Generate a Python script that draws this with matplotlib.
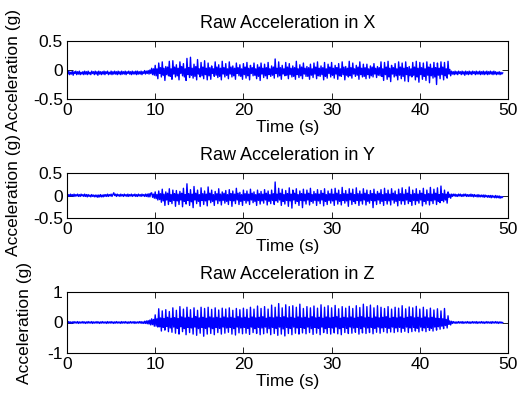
import numpy as np
import matplotlib
matplotlib.use("Agg")
import matplotlib.pyplot as plt

plt.rcParams['font.family'] = ['Liberation Sans', 'DejaVu Sans']
plt.rcParams['axes.unicode_minus'] = False

SAMPLE_STEP = 0.1  # seconds between samples

titles = ["Raw Acceleration in X", "Raw Acceleration in Y", "Raw Acceleration in Z"]
xlabel = "Time (s)"
ylabel = "Acceleration (g)"
xticks = [0, 10, 20, 30, 40, 50]
yticks_xy = [-0.5, 0, 0.5]
yticks_z = [-1, 0, 1]

acc_x = [
    # 0 - 10 s
    -0.03,-0.07,-0.02,-0.08,-0.04,-0.07,-0.02,-0.09,-0.03,-0.06,-0.02,-0.08,-0.03,-0.07,-0.02,-0.08,-0.04,-0.07,-0.03,-0.08,
    -0.02,-0.07,-0.03,-0.08,-0.02,-0.07,-0.04,-0.08,-0.02,-0.06,-0.03,-0.08,-0.02,-0.07,-0.03,-0.09,-0.02,-0.07,-0.03,-0.08,
    -0.03,-0.07,-0.02,-0.08,-0.03,-0.06,-0.02,-0.08,-0.04,-0.07,-0.02,-0.08,-0.03,-0.07,-0.02,-0.07,-0.03,-0.08,-0.02,-0.07,
    -0.03,-0.08,-0.02,-0.07,-0.03,-0.07,-0.02,-0.08,-0.03,-0.06,-0.02,-0.07,-0.03,-0.08,-0.02,-0.07,-0.03,-0.07,-0.02,-0.08,
    -0.02,-0.07,-0.03,-0.07,-0.02,-0.08,-0.03,-0.06,-0.01,-0.07,-0.02,-0.06,-0.01,-0.07,0.00,-0.06,0.03,-0.08,0.02,-0.09,
    # 10 - 43.6 s
    0.08,-0.10,0.02,-0.15, 0.12,-0.06,0.04,-0.12, 0.14,-0.09,0.03,-0.18, 0.06,-0.08,0.05,-0.10, 0.15,-0.11,0.02,-0.16,
    0.16,-0.07,0.05,-0.12, 0.09,-0.10,0.03,-0.17, 0.14,-0.06,0.06,-0.10, 0.11,-0.12,0.02,-0.18, 0.20,-0.08,0.04,-0.13,
    0.22,-0.09,0.03,-0.14, 0.10,-0.11,0.06,-0.17, 0.18,-0.07,0.02,-0.12, 0.13,-0.10,0.05,-0.15, 0.16,-0.08,0.03,-0.17,
    0.12,-0.10,0.04,-0.16, 0.07,-0.06,0.02,-0.11, 0.14,-0.09,0.05,-0.13, 0.09,-0.11,0.03,-0.17, 0.15,-0.07,0.04,-0.12,
    0.11,-0.09,0.02,-0.15, 0.14,-0.07,0.05,-0.12, 0.07,-0.10,0.03,-0.16, 0.12,-0.06,0.04,-0.10, 0.09,-0.11,0.02,-0.16,
    0.11,-0.08,0.05,-0.14, 0.13,-0.10,0.03,-0.17, 0.08,-0.06,0.04,-0.10, 0.12,-0.09,0.02,-0.15, 0.09,-0.11,0.05,-0.18,
    0.12,-0.07,0.03,-0.13, 0.10,-0.10,0.04,-0.15, 0.13,-0.08,0.02,-0.11, 0.07,-0.09,0.05,-0.14, 0.19,-0.06,0.03,-0.12,
    0.14,-0.10,0.04,-0.16, 0.08,-0.07,0.02,-0.10, 0.13,-0.09,0.05,-0.15, 0.11,-0.08,0.03,-0.12, 0.07,-0.11,0.04,-0.16,
    0.15,-0.08,0.02,-0.13, 0.09,-0.10,0.05,-0.15, 0.12,-0.07,0.03,-0.11, 0.06,-0.11,0.04,-0.16, 0.10,-0.09,0.02,-0.13,
    0.12,-0.07,0.05,-0.15, 0.14,-0.10,0.03,-0.11, 0.07,-0.08,0.04,-0.17, 0.13,-0.11,0.02,-0.14, 0.10,-0.06,0.05,-0.12,
    0.13,-0.09,0.03,-0.14, 0.08,-0.07,0.04,-0.16, 0.11,-0.10,0.02,-0.11, 0.14,-0.08,0.05,-0.17, 0.06,-0.09,0.03,-0.12,
    0.15,-0.10,0.04,-0.14, 0.12,-0.07,0.02,-0.11, 0.08,-0.09,0.05,-0.16, 0.14,-0.08,0.03,-0.12, 0.10,-0.11,0.04,-0.15,
    0.10,-0.08,0.02,-0.14, 0.07,-0.10,0.05,-0.12, 0.11,-0.07,0.03,-0.13, 0.06,-0.09,0.04,-0.10, 0.14,-0.11,0.02,-0.18,
    0.13,-0.08,0.05,-0.16, 0.15,-0.12,0.03,-0.20, 0.08,-0.07,0.04,-0.12, 0.11,-0.10,0.02,-0.17, 0.14,-0.09,0.05,-0.15,
    0.12,-0.11,0.03,-0.19, 0.14,-0.08,0.04,-0.20, 0.06,-0.10,0.02,-0.12, 0.13,-0.09,0.05,-0.17, 0.15,-0.12,0.03,-0.21,
    0.13,-0.08,0.04,-0.16, 0.12,-0.11,0.02,-0.18, 0.14,-0.09,0.05,-0.22, 0.10,-0.10,0.03,-0.14, 0.13,-0.12,0.04,-0.25,
    0.12,-0.09,0.03,-0.15, 0.14,-0.08,0.05,-0.17, 0.13,-0.10,0.02,-0.14, 0.15,-0.07,0.01,-0.10,
    # 43.6 - 49.4 s
    -0.02,-0.07,-0.03,-0.08,-0.02,-0.07,-0.03,-0.08,-0.02,-0.06,-0.03,-0.08,-0.02,-0.07,-0.03,-0.09,-0.02,-0.07,-0.03,-0.08,
    -0.02,-0.07,-0.03,-0.08,-0.02,-0.06,-0.03,-0.08,-0.02,-0.07,-0.03,-0.07,-0.02,-0.08,-0.03,-0.07,-0.02,-0.08,-0.03,-0.07,
    -0.02,-0.08,-0.03,-0.07,-0.02,-0.07,-0.03,-0.08,-0.02,-0.07,-0.03,-0.08,-0.04,-0.07,-0.03,-0.08,-0.04,-0.07,-0.05,
]

acc_y = [
    # 0 - 9.6 s
    0.03,-0.02,0.02,-0.02,0.03,-0.01,0.02,-0.02,0.03,-0.02,0.02,-0.01,0.03,-0.02,0.02,-0.02,0.03,-0.01,0.02,-0.02,
    0.03,-0.02,0.02,-0.03,0.02,-0.02,0.01,-0.03,0.02,-0.02,0.01,-0.03,0.01,-0.03,0.01,-0.04,0.01,-0.03,0.02,-0.03,
    0.01,-0.03,0.02,-0.02,0.02,-0.02,0.03,-0.02,0.02,-0.01,0.03,-0.02,0.02,0.06,0.00,0.03,-0.02,0.03,-0.01,0.02,
    -0.02,0.03,-0.01,0.02,-0.02,0.03,-0.01,0.02,-0.02,0.03,-0.02,0.02,-0.01,0.03,-0.02,0.02,-0.01,0.03,-0.02,0.02,
    -0.02,0.03,-0.01,0.02,-0.02,0.03,-0.01,0.02,-0.02,0.03,-0.02,0.03,-0.03,0.04,-0.03,0.05,
    # 9.6 - 43.6 s
    0.06,-0.04,0.03,-0.06, 0.08,-0.07,0.02,-0.10,
    0.10,-0.09,0.04,-0.15, 0.14,-0.12,0.03,-0.22, 0.08,-0.10,0.05,-0.20, 0.15,-0.13,0.02,-0.18, 0.12,-0.11,0.04,-0.24,
    0.11,-0.12,0.03,-0.20, 0.09,-0.10,0.05,-0.25, 0.16,-0.13,0.02,-0.19, 0.26,-0.11,0.04,-0.22, 0.13,-0.14,0.03,-0.27,
    0.20,-0.10,0.05,-0.18, 0.12,-0.13,0.02,-0.24, 0.17,-0.11,0.04,-0.20, 0.10,-0.12,0.03,-0.23, 0.19,-0.10,0.05,-0.16,
    0.12,-0.13,0.02,-0.22, 0.09,-0.10,0.04,-0.18, 0.15,-0.12,0.03,-0.21, 0.08,-0.11,0.05,-0.17, 0.11,-0.13,0.02,-0.20,
    0.13,-0.11,0.04,-0.24, 0.10,-0.12,0.03,-0.18, 0.16,-0.10,0.05,-0.20, 0.07,-0.13,0.02,-0.22, 0.12,-0.11,0.04,-0.17,
    0.10,-0.12,0.03,-0.20, 0.14,-0.10,0.05,-0.16, 0.08,-0.13,0.02,-0.22, 0.12,-0.11,0.04,-0.19, 0.09,-0.12,0.03,-0.17,
    0.13,-0.10,0.05,-0.21, 0.10,-0.13,0.02,-0.18, 0.12,-0.11,0.04,-0.20, 0.30,-0.12,0.03,-0.15, 0.16,-0.10,0.05,-0.22,
    0.14,-0.13,0.02,-0.19, 0.11,-0.11,0.04,-0.24, 0.17,-0.12,0.03,-0.28, 0.12,-0.10,0.05,-0.18, 0.15,-0.13,0.02,-0.22,
    0.10,-0.11,0.04,-0.27, 0.14,-0.12,0.03,-0.19, 0.12,-0.10,0.05,-0.21, 0.16,-0.13,0.02,-0.17, 0.09,-0.11,0.04,-0.22,
    0.13,-0.12,0.03,-0.18, 0.11,-0.10,0.05,-0.23, 0.15,-0.13,0.02,-0.20, 0.10,-0.11,0.04,-0.17, 0.14,-0.12,0.03,-0.22,
    0.16,-0.10,0.05,-0.19, 0.12,-0.13,0.02,-0.21, 0.18,-0.11,0.04,-0.17, 0.11,-0.12,0.03,-0.24, 0.15,-0.10,0.05,-0.20,
    0.14,-0.13,0.02,-0.18, 0.17,-0.11,0.04,-0.22, 0.10,-0.12,0.03,-0.19, 0.15,-0.10,0.05,-0.21, 0.12,-0.13,0.02,-0.17,
    0.11,-0.11,0.04,-0.27, 0.14,-0.12,0.03,-0.20, 0.09,-0.10,0.05,-0.18, 0.13,-0.13,0.02,-0.22, 0.16,-0.11,0.04,-0.19,
    0.12,-0.12,0.03,-0.21, 0.15,-0.10,0.05,-0.17, 0.10,-0.13,0.02,-0.23, 0.14,-0.11,0.04,-0.19, 0.17,-0.12,0.03,-0.20,
    0.13,-0.10,0.05,-0.18, 0.19,-0.13,0.02,-0.22, 0.12,-0.11,0.04,-0.20, 0.15,-0.12,0.03,-0.17, 0.11,-0.10,0.05,-0.23,
    0.16,-0.13,0.02,-0.19, 0.12,-0.11,0.04,-0.21, 0.18,-0.12,0.03,-0.18, 0.14,-0.10,0.05,-0.20, 0.17,-0.13,0.02,-0.16,
    0.21,-0.11,0.04,-0.14, 0.12,-0.10,0.03,-0.17, 0.08,-0.04,0.03,-0.06,
    # 43.6 - 49.4 s
    0.03,-0.02,0.03,-0.01,0.03,-0.02,0.02,-0.02,0.03,-0.01,0.03,-0.02,0.02,-0.02,0.03,-0.01,0.03,-0.02,0.02,-0.02,
    0.02,-0.02,0.03,-0.02,0.02,-0.03,0.02,-0.02,0.01,-0.03,0.02,-0.03,0.01,-0.03,0.01,-0.03,0.01,-0.04,0.01,-0.03,
    0.00,-0.04,0.00,-0.04,0.00,-0.05,0.00,-0.04,-0.01,-0.05,0.00,-0.05,-0.01,-0.05,-0.01,-0.06,-0.02,-0.05,-0.03,
]

acc_z = [
    # 0 - 10 s
    0.02,-0.02,0.03,-0.02,0.02,-0.03,0.02,-0.02,0.03,-0.02,0.02,-0.02,0.03,-0.03,0.02,-0.02,0.02,-0.02,0.03,-0.02,
    0.02,-0.03,0.02,-0.02,0.03,-0.02,0.02,-0.02,0.03,-0.03,0.02,-0.02,0.02,-0.02,0.03,-0.02,0.02,-0.03,0.02,-0.02,
    0.03,-0.02,0.02,-0.02,0.02,-0.03,0.03,-0.02,0.02,-0.02,0.03,-0.02,0.02,-0.03,0.02,-0.02,0.03,-0.02,0.02,-0.02,
    0.02,-0.03,0.03,-0.02,0.02,-0.02,0.03,-0.02,0.02,-0.03,0.02,-0.02,0.03,-0.02,0.02,-0.02,0.03,-0.03,0.02,-0.02,
    0.02,-0.02,0.03,-0.02,0.03,-0.03,0.02,-0.03,0.04,-0.03,0.05,-0.04,0.06,-0.05,
    0.08,-0.08,0.12,-0.07,0.10,-0.12,
    # 10 - 43.6 s
    0.25,-0.12,0.12,-0.15, 0.45,-0.14,0.15,-0.28, 0.38,-0.16,0.13,-0.25, 0.42,-0.13,0.17,-0.30, 0.36,-0.18,0.14,-0.32,
    0.48,-0.15,0.16,-0.35, 0.40,-0.19,0.13,-0.38, 0.52,-0.14,0.18,-0.30, 0.44,-0.20,0.15,-0.40, 0.50,-0.16,0.17,-0.33,
    0.42,-0.18,0.14,-0.38, 0.48,-0.15,0.19,-0.42, 0.40,-0.20,0.15,-0.35, 0.50,-0.16,0.17,-0.45, 0.46,-0.19,0.14,-0.38,
    0.50,-0.15,0.18,-0.36, 0.43,-0.20,0.15,-0.40, 0.48,-0.16,0.17,-0.33, 0.41,-0.19,0.14,-0.38, 0.47,-0.15,0.18,-0.35,
    0.44,-0.18,0.15,-0.32, 0.48,-0.16,0.17,-0.38, 0.40,-0.20,0.14,-0.41, 0.46,-0.15,0.19,-0.34, 0.42,-0.18,0.15,-0.37,
    0.47,-0.16,0.17,-0.35, 0.43,-0.19,0.14,-0.39, 0.50,-0.15,0.18,-0.33, 0.44,-0.20,0.15,-0.36, 0.54,-0.16,0.17,-0.40,
    0.46,-0.18,0.19,-0.37, 0.52,-0.15,0.14,-0.34, 0.44,-0.20,0.17,-0.40, 0.57,-0.16,0.15,-0.36, 0.50,-0.19,0.18,-0.42,
    0.62,-0.15,0.16,-0.38, 0.48,-0.21,0.19,-0.44, 0.58,-0.16,0.15,-0.36, 0.52,-0.19,0.17,-0.40, 0.55,-0.15,0.14,-0.35,
    0.50,-0.18,0.18,-0.38, 0.60,-0.16,0.15,-0.34, 0.46,-0.19,0.17,-0.37, 0.52,-0.15,0.14,-0.33, 0.48,-0.20,0.19,-0.39,
    0.54,-0.16,0.15,-0.35, 0.47,-0.19,0.17,-0.40, 0.58,-0.15,0.14,-0.33, 0.50,-0.20,0.18,-0.36, 0.55,-0.16,0.15,-0.38,
    0.48,-0.18,0.17,-0.34, 0.56,-0.15,0.19,-0.37, 0.45,-0.20,0.14,-0.40, 0.52,-0.16,0.17,-0.33, 0.47,-0.19,0.15,-0.36,
    0.53,-0.15,0.18,-0.35, 0.46,-0.18,0.14,-0.32, 0.55,-0.16,0.17,-0.38, 0.49,-0.20,0.19,-0.34, 0.60,-0.15,0.15,-0.36,
    0.52,-0.18,0.17,-0.33, 0.57,-0.16,0.14,-0.37, 0.48,-0.19,0.18,-0.32, 0.55,-0.15,0.15,-0.35, 0.50,-0.18,0.17,-0.30,
    0.46,-0.16,0.19,-0.34, 0.52,-0.19,0.14,-0.31, 0.44,-0.15,0.17,-0.33, 0.50,-0.18,0.15,-0.30, 0.47,-0.16,0.18,-0.32,
    0.55,-0.19,0.14,-0.29, 0.45,-0.15,0.17,-0.33, 0.51,-0.18,0.19,-0.30, 0.48,-0.16,0.15,-0.28, 0.53,-0.19,0.17,-0.31,
    0.44,-0.15,0.14,-0.27, 0.50,-0.18,0.18,-0.30, 0.42,-0.16,0.15,-0.26, 0.47,-0.19,0.17,-0.28, 0.41,-0.15,0.14,-0.25,
    0.45,-0.14,0.13,-0.22, 0.38,-0.12,0.12,-0.20, 0.46,-0.10,0.10,-0.18, 0.22,-0.06,0.05,-0.08,
    # 43.6 - 49.4 s
    0.04,-0.03,0.03,-0.02,0.02,-0.03,0.02,-0.02,0.03,-0.02,0.02,-0.02,0.03,-0.03,0.02,-0.02,0.02,-0.02,0.03,-0.02,
    0.02,-0.03,0.02,-0.02,0.03,-0.02,0.02,-0.02,0.03,-0.03,0.02,-0.02,0.02,-0.02,0.03,-0.02,0.02,-0.03,0.02,-0.02,
    0.03,-0.02,0.02,-0.02,0.02,-0.03,0.03,-0.02,0.02,-0.02,0.03,-0.02,0.02,-0.03,0.02,-0.02,0.02,-0.02,0.00,
]

series = [acc_x, acc_y, acc_z]
ylims = [(-0.5, 0.5), (-0.5, 0.5), (-1, 1)]
yticks_all = [yticks_xy, yticks_xy, yticks_z]

W, H = 522, 394
fig = plt.figure(figsize=(W / 100, H / 100), dpi=100)

# axes boxes in pixels: (left, top, right, bottom)
boxes = [(67, 41, 508, 99), (67, 173, 508, 218), (67, 292, 508, 353)]
ylabel_x = [-0.104, -0.104, -0.079]
FS = 12.5

for i, (vals, box) in enumerate(zip(series, boxes)):
    l, t, r, b = box
    ax = fig.add_axes([l / W, (H - b) / H, (r - l) / W, (b - t) / H])
    tt = np.arange(len(vals)) * SAMPLE_STEP
    ax.plot(tt, vals, color='#0000ff', linewidth=1.0)
    ax.set_xlim(0, 50)
    ax.set_ylim(*ylims[i])
    ax.set_xticks(xticks)
    ax.set_yticks(yticks_all[i])
    ax.set_xticklabels([str(v) for v in xticks])
    ax.set_yticklabels([('%g' % v) for v in yticks_all[i]])
    ax.tick_params(direction='in', top=True, right=True, length=4, width=0.6,
                   labelsize=FS, pad=3, colors='black')
    for s in ax.spines.values():
        s.set_linewidth(0.8)
    ax.set_title(titles[i], fontsize=13, pad=9.5)
    ax.set_xlabel(xlabel, fontsize=FS, labelpad=1)
    ax.set_ylabel(ylabel, fontsize=FS)
    ax.yaxis.set_label_coords(ylabel_x[i], 0.5)

fig.savefig("out.png", dpi=100)
